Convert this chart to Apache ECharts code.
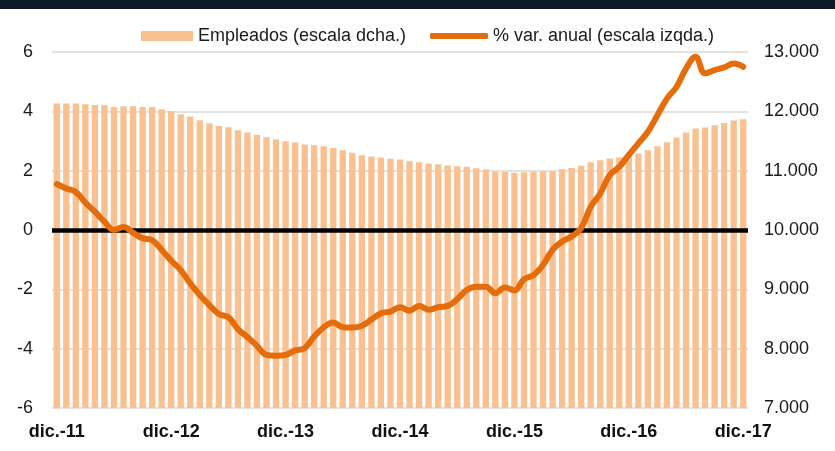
<!DOCTYPE html>
<html>
<head>
<meta charset="utf-8">
<script src="https://cdn.jsdelivr.net/npm/echarts@6/dist/echarts.min.js"></script>
<style>
  html, body { margin: 0; padding: 0; background: #fff; }
  #chart { width: 835px; height: 451px; }
</style>
</head>
<body>
<div id="chart"></div>
<script>
// meses de dic.-11 a dic.-17
var mesesAbr = ['ene.', 'feb.', 'mar.', 'abr.', 'may.', 'jun.', 'jul.', 'ago.', 'sep.', 'oct.', 'nov.', 'dic.']
var meses = ['dic.-11']
for (var a = 12; a <= 17; a++) {
  for (var m = 0; m < 12; m++) {
    meses.push(mesesAbr[m] + '-' + a)
  }
}

// Empleados (escala dcha.)
var empleados = [
  12130, 12130, 12130, 12120, 12108, 12103, 12074, 12086, 12086, 12074, 12074, 12035, 12002,
  11951, 11912, 11850, 11800, 11754, 11732, 11681, 11643, 11603, 11564, 11530, 11497,
  11475, 11441, 11429, 11412, 11384, 11345, 11300, 11259, 11239, 11222, 11199, 11189,
  11160, 11143, 11121, 11109, 11088, 11076, 11064, 11042, 11020, 10987, 10980, 10963,
  10975, 10980, 10992, 10992, 11030, 11047, 11081, 11143, 11177, 11205, 11222, 11256,
  11290, 11345, 11412, 11480, 11559, 11643, 11710, 11727, 11766, 11805, 11845, 11867
]

// % var. anual (escala izqda.)
var variacion = [
  1.55, 1.40, 1.28, 0.92, 0.62, 0.28, 0.0, 0.1, -0.09, -0.28, -0.34, -0.67, -1.03,
  -1.35, -1.80, -2.19, -2.53, -2.83, -2.94, -3.34, -3.61, -3.91, -4.21, -4.24, -4.21,
  -4.06, -3.98, -3.59, -3.28, -3.12, -3.28, -3.29, -3.23, -3.02, -2.81, -2.75, -2.60,
  -2.72, -2.56, -2.69, -2.60, -2.56, -2.33, -2.02, -1.91, -1.91, -2.13, -1.94, -2.04,
  -1.66, -1.52, -1.18, -0.67, -0.39, -0.22, 0.06, 0.78, 1.23, 1.85, 2.13, 2.53,
  2.92, 3.31, 3.87, 4.43, 4.82, 5.44, 5.84, 5.28, 5.39, 5.48, 5.61, 5.50
]

var chart = echarts.init(document.getElementById('chart'))

var textoLeyenda = { fontSize: 18, color: '#1a1a1a', fontFamily: 'Liberation Sans' }

var option = {
  backgroundColor: '#fff',
  animation: false,
  textStyle: { fontFamily: 'Liberation Sans, Arial, sans-serif' },
  graphic: [
    {
      type: 'rect',
      left: 0, top: 0,
      shape: { width: 835, height: 9 },
      style: { fill: '#0e1a27' }
    }
  ],
  legend: [
    {
      top: 22,
      left: 136,
      itemWidth: 52,
      itemHeight: 10,
      textStyle: textoLeyenda,
      data: [{ name: 'Empleados (escala dcha.)', icon: 'rect' }]
    },
    {
      top: 22,
      left: 425,
      itemWidth: 58,
      itemHeight: 6,
      textStyle: textoLeyenda,
      data: [{ name: '% var. anual (escala izqda.)', icon: 'roundRect' }]
    }
  ],
  grid: { left: 52, right: 87, top: 52, bottom: 43 },
  xAxis: {
    type: 'category',
    data: meses,
    boundaryGap: true,
    axisLine: { show: false },
    axisTick: { show: false },
    axisLabel: {
      interval: 11,
      margin: 15,
      fontSize: 18,
      fontWeight: 'bold',
      color: '#111',
      fontFamily: 'Liberation Sans'
    }
  },
  yAxis: [
    {
      type: 'value',
      min: -6, max: 6, interval: 2,
      axisLine: { show: false },
      axisTick: { show: false },
      axisLabel: { fontSize: 18, color: '#1a1a1a', margin: 19 },
      splitLine: { lineStyle: { color: '#d9d9d9', width: 1.5 } }
    },
    {
      type: 'value',
      min: 7000, max: 13000, interval: 1000,
      position: 'right',
      axisLine: { show: false },
      axisTick: { show: false },
      splitLine: { show: false },
      axisLabel: {
        fontSize: 18, color: '#1a1a1a', margin: 16,
        formatter: function (v) {
          return String(v).replace(/\B(?=(\d{3})+(?!\d))/g, '.')
        }
      }
    }
  ],
  series: [
    {
      name: 'Empleados (escala dcha.)',
      type: 'bar',
      yAxisIndex: 1,
      data: empleados,
      barCategoryGap: '34%',
      itemStyle: { color: '#fac08f' },
      z: 2,
      markLine: {
        silent: true,
        symbol: 'none',
        label: { show: false },
        lineStyle: { color: '#000', width: 4.5, type: 'solid' },
        data: [{ yAxis: 10000 }]
      }
    },
    {
      name: '% var. anual (escala izqda.)',
      type: 'line',
      yAxisIndex: 0,
      data: variacion,
      smooth: 0.4,
      symbol: 'none',
      lineStyle: { color: '#e46c0a', width: 6, cap: 'round' },
      itemStyle: { color: '#e46c0a' },
      z: 5
    }
  ]
}

chart.setOption(option)
</script>
</body>
</html>
